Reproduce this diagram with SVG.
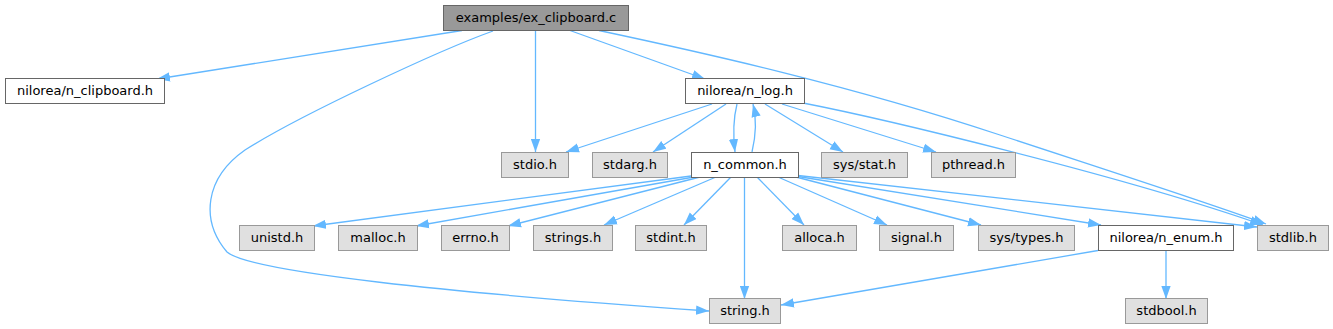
<svg xmlns="http://www.w3.org/2000/svg" width="1333" height="329" viewBox="0 0 1333 329">
<style>
.n rect{stroke-width:1}
.root rect{fill:#999999;stroke:#666666}
.doc rect{fill:#ffffff;stroke:#666666}
.sys rect{fill:#e0e0e0;stroke:#999999}
text{font-family:"DejaVu Sans","Liberation Sans",sans-serif;font-size:13px;fill:#000000;text-anchor:middle}
#edges path{fill:none;stroke:#63b8ff;stroke-width:1.3;marker-end:url(#ah)}
</style>
<defs>
<marker id="ah" markerUnits="userSpaceOnUse" markerWidth="14" markerHeight="10" refX="13" refY="5" orient="auto" viewBox="0 0 14 10">
<path d="M0,0.35 L13,5 L0,9.65 z" fill="#63b8ff"/>
</marker>
</defs>
<rect width="1333" height="329" fill="#ffffff"/>
<g id="edges">
<path d="M462,30.5 L157,79"/>
<path d="M493,31 C440,50 300,115 245,150 C205,178 200,220 227,252 C250,272 450,293 709,311"/>
<path d="M535.5,30.5 L535.5,152"/>
<path d="M570,30.5 L705,79"/>
<path d="M599,30.5 C700,52 850,85 1000,135 C1100,168 1200,200 1266,224"/>
<path d="M712,104 L566,152"/>
<path d="M726,104 L653,152"/>
<path d="M737,104 C733,120 733,135 735,152"/>
<path d="M752,152 C756,135 757,120 753,104"/>
<path d="M765,104 L843,152"/>
<path d="M782,104 L936,152"/>
<path d="M803,103 C880,118 1120,175 1263,225"/>
<path d="M691,176 L313,226"/>
<path d="M694,177 L416,226"/>
<path d="M700,177 L508,226"/>
<path d="M716,177 L604,225"/>
<path d="M731,177 L684,225"/>
<path d="M744.5,177 L744.5,299"/>
<path d="M757,177 L804,225"/>
<path d="M778,177 L887,225"/>
<path d="M796,177 L981,225"/>
<path d="M798,176.5 L1101,225"/>
<path d="M798,175.5 L1257,227"/>
<path d="M1098,250.5 L781,305"/>
<path d="M1166,250.5 L1166,299"/>
</g>
<g id="node_root" class="n root"><rect x="443.5" y="5.5" width="185" height="25"/><text x="536" y="21.8">examples/ex_clipboard.c</text></g>
<g id="node_n_clipboard" class="n doc"><rect x="5.5" y="78.5" width="159" height="25"/><text x="85" y="95.3">nilorea/n_clipboard.h</text></g>
<g id="node_n_log" class="n doc"><rect x="685.5" y="78.5" width="119" height="25"/><text x="745" y="95.3">nilorea/n_log.h</text></g>
<g id="node_stdio" class="n sys"><rect x="501.5" y="152.5" width="67" height="25"/><text x="535" y="168.7">stdio.h</text></g>
<g id="node_stdarg" class="n sys"><rect x="592.5" y="152.5" width="75" height="25"/><text x="630" y="168.7">stdarg.h</text></g>
<g id="node_n_common" class="n doc"><rect x="691.5" y="152.5" width="107" height="25"/><text x="745" y="168.7">n_common.h</text></g>
<g id="node_sys_stat" class="n sys"><rect x="821.5" y="152.5" width="86" height="25"/><text x="864.5" y="168.7">sys/stat.h</text></g>
<g id="node_pthread" class="n sys"><rect x="931.5" y="152.5" width="84" height="25"/><text x="973.5" y="168.7">pthread.h</text></g>
<g id="node_unistd" class="n sys"><rect x="239.5" y="225.5" width="75" height="25"/><text x="277" y="242">unistd.h</text></g>
<g id="node_malloc" class="n sys"><rect x="338.5" y="225.5" width="79" height="25"/><text x="378" y="242">malloc.h</text></g>
<g id="node_errno" class="n sys"><rect x="441.5" y="225.5" width="68" height="25"/><text x="475.5" y="242">errno.h</text></g>
<g id="node_strings" class="n sys"><rect x="533.5" y="225.5" width="79" height="25"/><text x="573" y="242">strings.h</text></g>
<g id="node_stdint" class="n sys"><rect x="635.5" y="225.5" width="71" height="25"/><text x="671" y="242">stdint.h</text></g>
<g id="node_alloca" class="n sys"><rect x="782.5" y="225.5" width="74" height="25"/><text x="819.5" y="242">alloca.h</text></g>
<g id="node_signal" class="n sys"><rect x="879.5" y="225.5" width="74" height="25"/><text x="916.5" y="242">signal.h</text></g>
<g id="node_sys_types" class="n sys"><rect x="978.5" y="225.5" width="96" height="25"/><text x="1026.5" y="242">sys/types.h</text></g>
<g id="node_n_enum" class="n doc"><rect x="1098.5" y="225.5" width="135" height="25"/><text x="1166" y="242">nilorea/n_enum.h</text></g>
<g id="node_stdlib" class="n sys"><rect x="1257.5" y="225.5" width="71" height="25"/><text x="1293" y="242">stdlib.h</text></g>
<g id="node_string" class="n sys"><rect x="709.5" y="298.5" width="71" height="25"/><text x="745" y="315">string.h</text></g>
<g id="node_stdbool" class="n sys"><rect x="1125.5" y="298.5" width="82" height="25"/><text x="1166.5" y="315">stdbool.h</text></g>
</svg>
